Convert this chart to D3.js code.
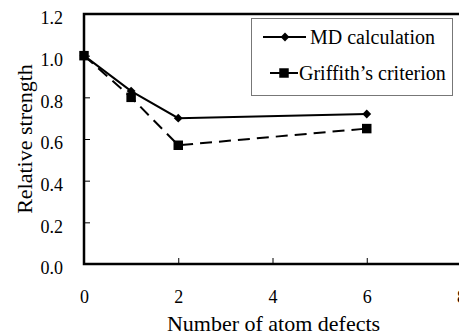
<!DOCTYPE html>
<html>
<head>
<meta charset="utf-8">
<script src="https://cdn.jsdelivr.net/npm/d3@7"></script>
<style>
  html, body { margin: 0; padding: 0; background: #fff; font-family: "Liberation Serif", serif; }
</style>
</head>
<body>
<svg id="chart" width="459" height="336"></svg>
<script>
// Relative strength versus number of atom defects
const defects = [0, 1, 2, 6];
const mdValues = [1.0, 0.83, 0.70, 0.72];
const griffithValues = [1.0, 0.80, 0.57, 0.65];
const xTicks = [0, 2, 4, 6, 8];
const yTicks = [0.0, 0.2, 0.4, 0.6, 0.8, 1.0, 1.2];
const seriesNames = ["MD calculation", "Griffith\u2019s criterion"];

const FONT = '"Liberation Serif", "Times New Roman", "DejaVu Serif", serif';

const svg = d3.select("#chart");
const plot = { left: 84, right: 461, top: 14, bottom: 264 };

const x = d3.scaleLinear().domain([0, 8]).range([plot.left, plot.right]);
const y = d3.scaleLinear().domain([0, 1.2]).range([plot.bottom, plot.top]);

// Frame
svg.append("rect")
  .attr("x", plot.left).attr("y", plot.top)
  .attr("width", plot.right - plot.left).attr("height", plot.bottom - plot.top)
  .attr("fill", "none").attr("stroke", "#000").attr("stroke-width", 2.5);

// Y axis: inward ticks, labels on the left
const yAxis = d3.axisLeft(y).tickValues(yTicks).tickFormat(d3.format(".1f"))
  .tickSizeInner(-6).tickSizeOuter(0).tickPadding(21);
const gy = svg.append("g").attr("transform", `translate(${plot.left},0)`).call(yAxis);
gy.attr("font-family", null).attr("font-size", null);
gy.select(".domain").remove();
gy.selectAll(".tick line").attr("stroke", "#000").attr("stroke-width", 1);
gy.selectAll(".tick text")
  .style("font-family", FONT).style("font-size", "18px")
  .attr("fill", "#000").attr("dy", "0.55em");

// X axis: inward ticks, labels below
const xAxis = d3.axisBottom(x).tickValues(xTicks).tickFormat(d3.format("d"))
  .tickSizeInner(-6).tickSizeOuter(0).tickPadding(26);
const gx = svg.append("g").attr("transform", `translate(0,${plot.bottom})`).call(xAxis);
gx.attr("font-family", null).attr("font-size", null);
gx.select(".domain").remove();
gx.selectAll(".tick line").attr("stroke", "#000").attr("stroke-width", 1);
gx.selectAll(".tick text")
  .style("font-family", FONT).style("font-size", "18px")
  .attr("fill", "#000");

// Axis titles
svg.append("text")
  .attr("x", 273.5).attr("y", 331)
  .attr("text-anchor", "middle").attr("fill", "#000")
  .style("font-family", FONT).style("font-size", "22px")
  .text("Number of atom defects");
svg.append("text")
  .attr("transform", "translate(32,139) rotate(-90)")
  .attr("text-anchor", "middle").attr("fill", "#000")
  .style("font-family", FONT).style("font-size", "22px")
  .text("Relative strength");

const line = d3.line().x((d, i) => x(defects[i])).y(d => y(d));

// Griffith's criterion: dashed line with squares
svg.append("path").datum(griffithValues)
  .attr("d", line).attr("fill", "none").attr("stroke", "#000")
  .attr("stroke-width", 2).attr("stroke-dasharray", "12,7");
// MD calculation: solid line with diamonds
svg.append("path").datum(mdValues)
  .attr("d", line).attr("fill", "none").attr("stroke", "#000")
  .attr("stroke-width", 2);

const square = d3.symbol().type(d3.symbolSquare).size(90);
const diamond = d3.symbol().type(d3.symbolDiamond2).size(50);

svg.append("g").selectAll("path").data(griffithValues).join("path")
  .attr("d", square)
  .attr("transform", (d, i) => `translate(${x(defects[i])},${y(d)})`)
  .attr("fill", "#000");
svg.append("g").selectAll("path").data(mdValues).join("path")
  .attr("d", diamond)
  .attr("transform", (d, i) => `translate(${x(defects[i])},${y(d)})`)
  .attr("fill", "#000");

// Legend
const lg = svg.append("g");
lg.append("rect")
  .attr("x", 251.5).attr("y", 18.5).attr("width", 201).attr("height", 77)
  .attr("fill", "#fff").attr("stroke", "#777").attr("stroke-width", 1);
const rows = [
  { name: seriesNames[0], cy: 37, x1: 263, x2: 306, mx: 285, tx: 310, sym: diamond },
  { name: seriesNames[1], cy: 73, x1: 270, x2: 298, mx: 284, tx: 299, sym: square }
];
rows.forEach(r => {
  lg.append("line")
    .attr("x1", r.x1).attr("x2", r.x2).attr("y1", r.cy).attr("y2", r.cy)
    .attr("stroke", "#000").attr("stroke-width", 2);
  lg.append("path").attr("d", r.sym)
    .attr("transform", `translate(${r.mx},${r.cy})`).attr("fill", "#000");
  lg.append("text")
    .attr("x", r.tx).attr("y", r.cy + 6.5)
    .attr("fill", "#000")
    .style("font-family", FONT).style("font-size", "20px")
    .text(r.name);
});
</script>
</body>
</html>
